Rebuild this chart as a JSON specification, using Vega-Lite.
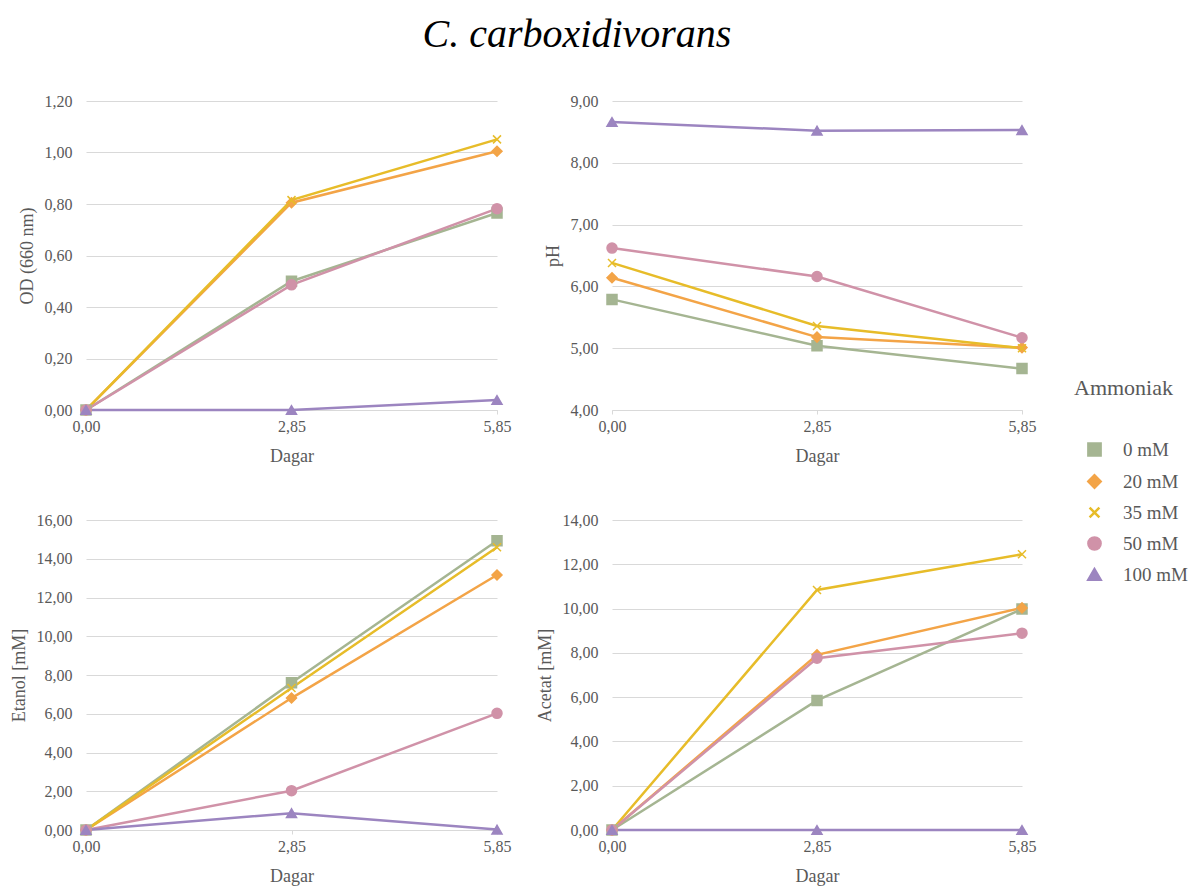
{
  "$schema": "https://vega.github.io/schema/vega-lite/v6.json",
  "padding": {"left": 10, "top": 15, "right": 5, "bottom": 5},
  "background": "white",
  "title": {"text": "C. carboxidivorans", "fontSize": 40, "fontStyle": "italic", "fontWeight": "normal", "font": "Liberation Serif, Times New Roman, serif", "color": "#000000", "anchor": "middle", "offset": 38, "dx": -22},
  "data": {"values": [
    {"p": "OD", "Dagar": "0,00", "s": "0 mM", "v": 0},
    {"p": "OD", "Dagar": "2,85", "s": "0 mM", "v": 0.5},
    {"p": "OD", "Dagar": "5,85", "s": "0 mM", "v": 0.765},
    {"p": "OD", "Dagar": "0,00", "s": "20 mM", "v": 0},
    {"p": "OD", "Dagar": "2,85", "s": "20 mM", "v": 0.805},
    {"p": "OD", "Dagar": "5,85", "s": "20 mM", "v": 1.005},
    {"p": "OD", "Dagar": "0,00", "s": "35 mM", "v": 0},
    {"p": "OD", "Dagar": "2,85", "s": "35 mM", "v": 0.815},
    {"p": "OD", "Dagar": "5,85", "s": "35 mM", "v": 1.051},
    {"p": "OD", "Dagar": "0,00", "s": "50 mM", "v": 0},
    {"p": "OD", "Dagar": "2,85", "s": "50 mM", "v": 0.486},
    {"p": "OD", "Dagar": "5,85", "s": "50 mM", "v": 0.782},
    {"p": "OD", "Dagar": "0,00", "s": "100 mM", "v": 0},
    {"p": "OD", "Dagar": "2,85", "s": "100 mM", "v": 0.0},
    {"p": "OD", "Dagar": "5,85", "s": "100 mM", "v": 0.039},
    {"p": "pH", "Dagar": "0,00", "s": "0 mM", "v": 5.79},
    {"p": "pH", "Dagar": "2,85", "s": "0 mM", "v": 5.04},
    {"p": "pH", "Dagar": "5,85", "s": "0 mM", "v": 4.67},
    {"p": "pH", "Dagar": "0,00", "s": "20 mM", "v": 6.14},
    {"p": "pH", "Dagar": "2,85", "s": "20 mM", "v": 5.18},
    {"p": "pH", "Dagar": "5,85", "s": "20 mM", "v": 5.01},
    {"p": "pH", "Dagar": "0,00", "s": "35 mM", "v": 6.38},
    {"p": "pH", "Dagar": "2,85", "s": "35 mM", "v": 5.36},
    {"p": "pH", "Dagar": "5,85", "s": "35 mM", "v": 5.0},
    {"p": "pH", "Dagar": "0,00", "s": "50 mM", "v": 6.62},
    {"p": "pH", "Dagar": "2,85", "s": "50 mM", "v": 6.16},
    {"p": "pH", "Dagar": "5,85", "s": "50 mM", "v": 5.17},
    {"p": "pH", "Dagar": "0,00", "s": "100 mM", "v": 8.66},
    {"p": "pH", "Dagar": "2,85", "s": "100 mM", "v": 8.52},
    {"p": "pH", "Dagar": "5,85", "s": "100 mM", "v": 8.53},
    {"p": "Etanol", "Dagar": "0,00", "s": "0 mM", "v": 0},
    {"p": "Etanol", "Dagar": "2,85", "s": "0 mM", "v": 7.6},
    {"p": "Etanol", "Dagar": "5,85", "s": "0 mM", "v": 14.93},
    {"p": "Etanol", "Dagar": "0,00", "s": "20 mM", "v": 0},
    {"p": "Etanol", "Dagar": "2,85", "s": "20 mM", "v": 6.81},
    {"p": "Etanol", "Dagar": "5,85", "s": "20 mM", "v": 13.16},
    {"p": "Etanol", "Dagar": "0,00", "s": "35 mM", "v": 0},
    {"p": "Etanol", "Dagar": "2,85", "s": "35 mM", "v": 7.33},
    {"p": "Etanol", "Dagar": "5,85", "s": "35 mM", "v": 14.59},
    {"p": "Etanol", "Dagar": "0,00", "s": "50 mM", "v": 0},
    {"p": "Etanol", "Dagar": "2,85", "s": "50 mM", "v": 2.03},
    {"p": "Etanol", "Dagar": "5,85", "s": "50 mM", "v": 6.02},
    {"p": "Etanol", "Dagar": "0,00", "s": "100 mM", "v": 0},
    {"p": "Etanol", "Dagar": "2,85", "s": "100 mM", "v": 0.87},
    {"p": "Etanol", "Dagar": "5,85", "s": "100 mM", "v": 0.02},
    {"p": "Acetat", "Dagar": "0,00", "s": "0 mM", "v": 0},
    {"p": "Acetat", "Dagar": "2,85", "s": "0 mM", "v": 5.85},
    {"p": "Acetat", "Dagar": "5,85", "s": "0 mM", "v": 9.98},
    {"p": "Acetat", "Dagar": "0,00", "s": "20 mM", "v": 0},
    {"p": "Acetat", "Dagar": "2,85", "s": "20 mM", "v": 7.91},
    {"p": "Acetat", "Dagar": "5,85", "s": "20 mM", "v": 10.03},
    {"p": "Acetat", "Dagar": "0,00", "s": "35 mM", "v": 0},
    {"p": "Acetat", "Dagar": "2,85", "s": "35 mM", "v": 10.84},
    {"p": "Acetat", "Dagar": "5,85", "s": "35 mM", "v": 12.45},
    {"p": "Acetat", "Dagar": "0,00", "s": "50 mM", "v": 0},
    {"p": "Acetat", "Dagar": "2,85", "s": "50 mM", "v": 7.76},
    {"p": "Acetat", "Dagar": "5,85", "s": "50 mM", "v": 8.89},
    {"p": "Acetat", "Dagar": "0,00", "s": "100 mM", "v": 0},
    {"p": "Acetat", "Dagar": "2,85", "s": "100 mM", "v": 0},
    {"p": "Acetat", "Dagar": "5,85", "s": "100 mM", "v": 0}
  ]},
  "columns": 2,
  "bounds": "flush",
  "spacing": {"row": 110, "column": 115},
  "concat": [
    {
      "width": 411, "height": 309,
      "transform": [{"filter": "datum.p === 'OD'"}],
      "encoding": {
        "x": {"field": "Dagar", "type": "ordinal", "sort": ["0,00", "2,85", "5,85"], "scale": {"type": "point", "padding": 0}, "title": "Dagar"},
        "y": {"field": "v", "type": "quantitative", "scale": {"domain": [0, 1.2]}, "axis": {"values": [0, 0.2, 0.4, 0.6, 0.8, 1.0, 1.2]}, "title": "OD (660 nm)"},
        "color": {"field": "s", "type": "nominal", "title": "Ammoniak",
          "scale": {"domain": ["0 mM", "20 mM", "35 mM", "50 mM", "100 mM"], "range": ["#A5B592", "#F3A447", "#E7BC29", "#D092A8", "#9C85C0"]},
          "legend": {"encode": {
            "symbols": {"update": {
              "shape": {"signal": "datum.value === '0 mM' ? 'M-2.2,0H2.2M-0.5,-0.5H0.5V0.5H-0.5Z' : datum.value === '20 mM' ? 'M-2.2,0H2.2M0,-0.55L0.55,0L0,0.55L-0.55,0Z' : datum.value === '35 mM' ? 'M-2.2,0H2.2M-0.45,-0.45L0.45,0.45M-0.45,0.45L0.45,-0.45' : datum.value === '50 mM' ? 'M-2.2,0H2.2M0.55,0A0.55,0.55 0 1,1 -0.55,0A0.55,0.55 0 1,1 0.55,0Z' : 'M-2.2,0H2.2M0,-0.6L0.6,0.45L-0.6,0.45Z'"},
              "fill": {"signal": "scale('color', datum.value)"},
              "stroke": {"signal": "scale('color', datum.value)"},
              "strokeWidth": {"value": 2.5},
              "opacity": {"value": 1},
              "fillOpacity": {"value": 1}
            }},
            "title": {"update": {"dx": {"value": -11}}}
          }}}
      },
      "layer": [
        {"mark": {"type": "line", "strokeWidth": 2.5}},
        {"mark": {"type": "point", "filled": true, "size": 100, "opacity": 1, "strokeWidth": 1.5},
         "encoding": {
           "shape": {"field": "s", "type": "nominal", "legend": null, "scale": {"domain": ["0 mM", "20 mM", "35 mM", "50 mM", "100 mM"], "range": ["square", "diamond", "M-0.8,-0.8L0.8,0.8M-0.8,0.8L0.8,-0.8", "circle", "triangle-up"]}},
           "stroke": {"field": "s", "type": "nominal", "legend": null, "scale": {"domain": ["0 mM", "20 mM", "35 mM", "50 mM", "100 mM"], "range": ["#A5B592", "#F3A447", "#E7BC29", "#D092A8", "#9C85C0"]}}}}
      ]
    },
    {
      "width": 410, "height": 309,
      "transform": [{"filter": "datum.p === 'pH'"}],
      "encoding": {
        "x": {"field": "Dagar", "type": "ordinal", "sort": ["0,00", "2,85", "5,85"], "scale": {"type": "point", "padding": 0}, "title": "Dagar"},
        "y": {"field": "v", "type": "quantitative", "scale": {"domain": [4, 9]}, "axis": {"values": [4, 5, 6, 7, 8, 9]}, "title": "pH"},
        "color": {"field": "s", "type": "nominal"}
      },
      "layer": [
        {"mark": {"type": "line", "strokeWidth": 2.5}},
        {"mark": {"type": "point", "filled": true, "size": 100, "opacity": 1, "strokeWidth": 1.5},
         "encoding": {"shape": {"field": "s", "type": "nominal", "legend": null}, "stroke": {"field": "s", "type": "nominal", "legend": null}}}
      ]
    },
    {
      "width": 411, "height": 310,
      "transform": [{"filter": "datum.p === 'Etanol'"}],
      "encoding": {
        "x": {"field": "Dagar", "type": "ordinal", "sort": ["0,00", "2,85", "5,85"], "scale": {"type": "point", "padding": 0}, "title": "Dagar"},
        "y": {"field": "v", "type": "quantitative", "scale": {"domain": [0, 16]}, "axis": {"values": [0, 2, 4, 6, 8, 10, 12, 14, 16]}, "title": "Etanol [mM]"},
        "color": {"field": "s", "type": "nominal"}
      },
      "layer": [
        {"mark": {"type": "line", "strokeWidth": 2.5}},
        {"mark": {"type": "point", "filled": true, "size": 100, "opacity": 1, "strokeWidth": 1.5},
         "encoding": {"shape": {"field": "s", "type": "nominal", "legend": null}, "stroke": {"field": "s", "type": "nominal", "legend": null}}}
      ]
    },
    {
      "width": 410, "height": 310,
      "transform": [{"filter": "datum.p === 'Acetat'"}],
      "encoding": {
        "x": {"field": "Dagar", "type": "ordinal", "sort": ["0,00", "2,85", "5,85"], "scale": {"type": "point", "padding": 0}, "title": "Dagar"},
        "y": {"field": "v", "type": "quantitative", "scale": {"domain": [0, 14]}, "axis": {"values": [0, 2, 4, 6, 8, 10, 12, 14]}, "title": "Acetat [mM]"},
        "color": {"field": "s", "type": "nominal"}
      },
      "layer": [
        {"mark": {"type": "line", "strokeWidth": 2.5}},
        {"mark": {"type": "point", "filled": true, "size": 100, "opacity": 1, "strokeWidth": 1.5},
         "encoding": {"shape": {"field": "s", "type": "nominal", "legend": null}, "stroke": {"field": "s", "type": "nominal", "legend": null}}}
      ]
    }
  ],
  "resolve": {"scale": {"color": "shared", "shape": "shared", "stroke": "shared"}},
  "config": {
    "font": "Liberation Serif, Times New Roman, serif",
    "view": {"stroke": null},
    "axisX": {
      "labelAngle": 0, "grid": false, "domain": true, "domainColor": "#D9D9D9", "domainWidth": 1,
      "ticks": true, "tickColor": "#D9D9D9", "tickSize": 4, "labelPadding": 4,
      "labelFont": "Liberation Serif, Times New Roman, serif", "labelFontSize": 16, "labelColor": "#595959",
      "titleFont": "Liberation Serif, Times New Roman, serif", "titleFontSize": 18, "titleFontWeight": "normal", "titleColor": "#595959", "titlePadding": 13
    },
    "axisY": {
      "grid": true, "gridColor": "#D9D9D9", "gridWidth": 1, "domain": false, "ticks": false,
      "labelPadding": 14, "labelFont": "Liberation Serif, Times New Roman, serif", "labelFontSize": 16, "labelColor": "#595959",
      "labelExpr": "replace(format(datum.value, '.2f'), '.', ',')",
      "titleFont": "Liberation Serif, Times New Roman, serif", "titleFontSize": 18, "titleFontWeight": "normal", "titleColor": "#595959", "titlePadding": 8
    },
    "legend": {
      "orient": "none", "legendX": 988, "legendY": 277,
      "titleFont": "Liberation Serif, Times New Roman, serif", "titleFontSize": 22, "titleFontWeight": "normal", "titleColor": "#595959", "titlePadding": 40,
      "labelFont": "Liberation Serif, Times New Roman, serif", "labelFontSize": 19, "labelColor": "#595959",
      "symbolSize": 150, "labelOffset": 19, "rowPadding": 9,
      "symbolStrokeWidth": 2
    }
  }
}
